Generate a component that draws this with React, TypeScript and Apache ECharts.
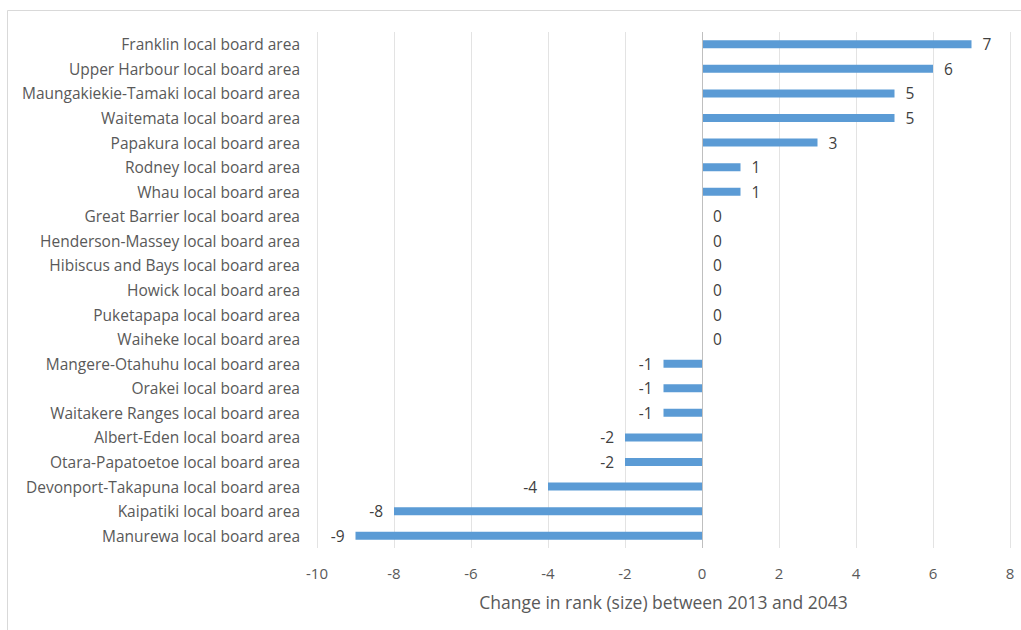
import React, { useEffect, useRef } from "react";
import * as echarts from "echarts";

const boardAreas = [
  "Franklin local board area",
  "Upper Harbour local board area",
  "Maungakiekie-Tamaki local board area",
  "Waitemata local board area",
  "Papakura local board area",
  "Rodney local board area",
  "Whau local board area",
  "Great Barrier local board area",
  "Henderson-Massey local board area",
  "Hibiscus and Bays local board area",
  "Howick local board area",
  "Puketapapa local board area",
  "Waiheke local board area",
  "Mangere-Otahuhu local board area",
  "Orakei local board area",
  "Waitakere Ranges local board area",
  "Albert-Eden local board area",
  "Otara-Papatoetoe local board area",
  "Devonport-Takapuna local board area",
  "Kaipatiki local board area",
  "Manurewa local board area",
];

const rankChange = [7, 6, 5, 5, 3, 1, 1, 0, 0, 0, 0, 0, 0, -1, -1, -1, -2, -2, -4, -8, -9];

const axisTitle = "Change in rank (size) between 2013 and 2043";

const FONT = "'Open Sans', 'Noto Sans', sans-serif";
const TEXT = "#595959";

export default function App() {
  const ref = useRef<HTMLDivElement>(null);

  useEffect(() => {
    if (!ref.current) return;
    const chart = echarts.init(ref.current, undefined, { renderer: "svg" });
    chart.setOption({
      animation: false,
      backgroundColor: "#ffffff",
      textStyle: { fontFamily: FONT },
      graphic: [
        {
          type: "rect",
          shape: { x: 7.5, y: 10.5, width: 1100, height: 700 },
          style: { fill: "none", stroke: "#d9d9d9", lineWidth: 1 },
          silent: true,
        },
      ],
      grid: { left: 317, right: 11, top: 32, bottom: 82 },
      xAxis: {
        type: "value",
        min: -10,
        max: 8,
        interval: 2,
        axisLine: { show: false },
        axisTick: { show: false },
        splitLine: { show: true, lineStyle: { color: "#e3e3e3", width: 1 } },
        axisLabel: { color: TEXT, fontSize: 15, margin: 17, fontFamily: FONT },
        name: axisTitle,
        nameLocation: "middle",
        nameGap: 45,
        nameTextStyle: { color: TEXT, fontSize: 17.5, fontFamily: FONT },
      },
      yAxis: {
        type: "category",
        data: boardAreas,
        inverse: true,
        axisLine: { show: false },
        axisTick: { show: false },
        axisLabel: { color: TEXT, fontSize: 15.5, margin: 17, fontFamily: FONT },
      },
      series: [
        {
          type: "bar",
          barWidth: 8,
          data: rankChange.map((v) => ({
            value: v,
            label: { position: v < 0 ? "left" : "right" },
          })),
          itemStyle: { color: "#5b9bd5" },
          label: {
            show: true,
            distance: 11,
            color: "#404040",
            fontSize: 15.5,
            fontFamily: FONT,
          },
          markLine: {
            silent: true,
            symbol: "none",
            label: { show: false },
            lineStyle: { color: "#bfbfbf", type: "solid", width: 1 },
            data: [{ xAxis: 0 }],
          },
        },
      ],
    });
    return () => chart.dispose();
  }, []);

  return (
    <div
      ref={ref}
      style={{ position: "fixed", left: 0, top: 0, width: 1021, height: 630 }}
    />
  );
}
